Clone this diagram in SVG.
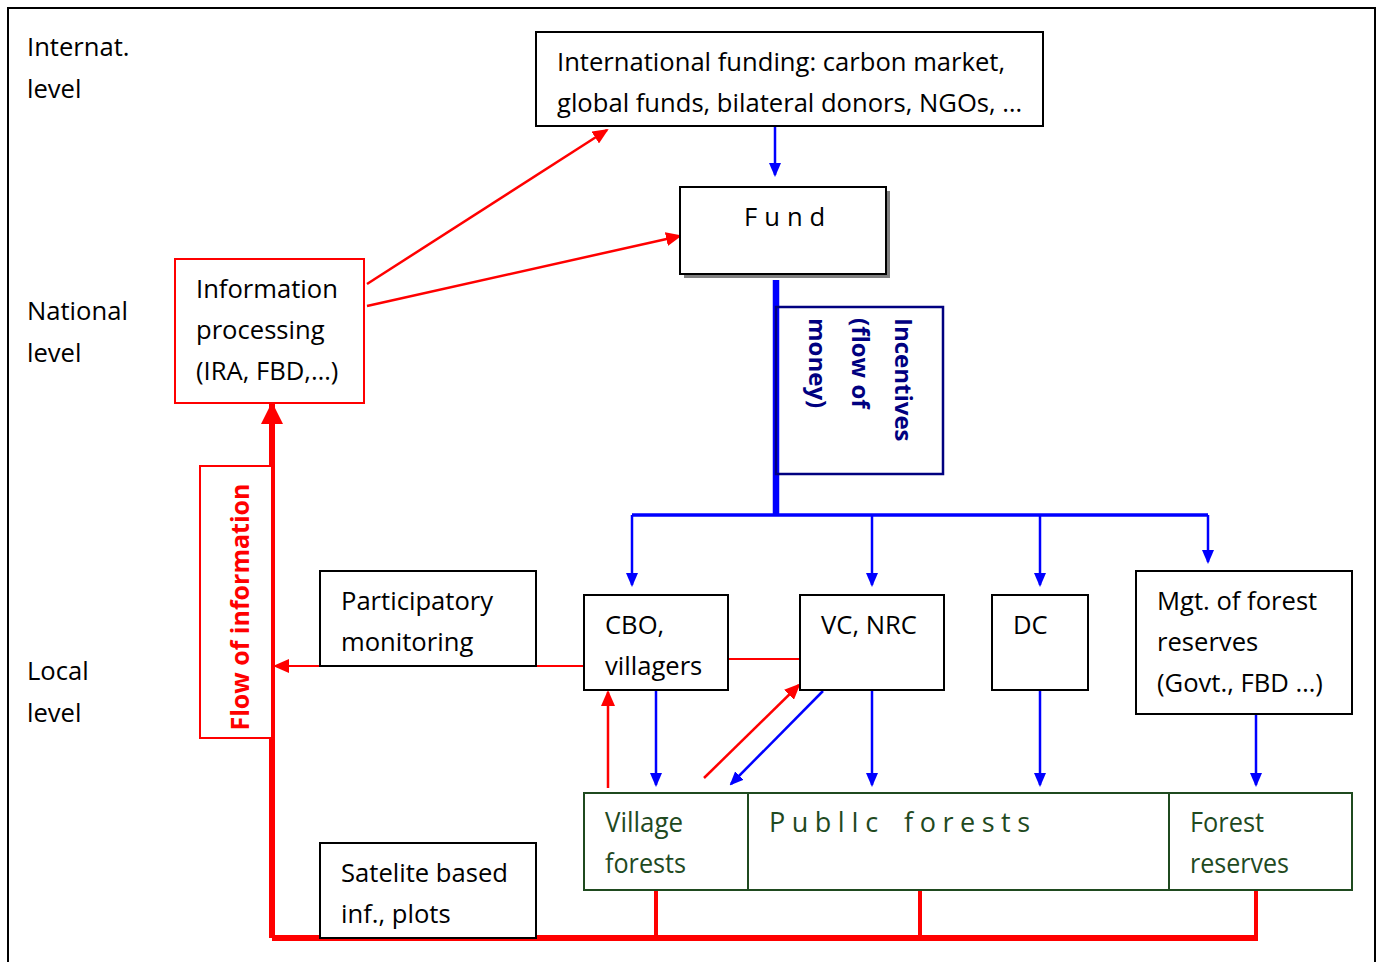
<svg xmlns="http://www.w3.org/2000/svg" width="1381" height="962" viewBox="0 0 1381 962">
<style>
.t{font-family:"Open Sans","Noto Sans",sans-serif;font-size:25.6px;fill:#000}
.box{fill:#fff;stroke:#000;stroke-width:2}
.rbox{fill:#fff;stroke:#f00;stroke-width:2}
.b{stroke:#00f;fill:none}
.r{stroke:#f00;fill:none}
.g{font-family:"Open Sans","Noto Sans",sans-serif;font-size:27px;fill:#1f4a1f}
</style>
<defs>
<marker id="ab" markerWidth="14" markerHeight="14" refX="12" refY="6" orient="auto" markerUnits="userSpaceOnUse" viewBox="0 0 14 12"><path d="M0,0 L14,6 L0,12 z" fill="#00f"/></marker>
<marker id="ar" markerWidth="16" markerHeight="14" refX="14" refY="7" orient="auto" markerUnits="userSpaceOnUse" viewBox="0 0 16 14"><path d="M0,0 L16,7 L0,14 z" fill="#f00"/></marker>
<marker id="arb" markerWidth="22" markerHeight="22" refX="20" refY="11" orient="auto" markerUnits="userSpaceOnUse" viewBox="0 0 22 22"><path d="M0,0 L22,11 L0,22 z" fill="#f00"/></marker>
</defs>
<rect x="0" y="0" width="1381" height="962" fill="#fff"/>
<rect x="8" y="8" width="1367" height="1000" fill="none" stroke="#000" stroke-width="2"/>

<g id="levels">
<text class="t" x="27" y="56">Internat.</text>
<text class="t" x="27" y="98">level</text>
<text class="t" x="27" y="320">National</text>
<text class="t" x="27" y="362">level</text>
<text class="t" x="27" y="680">Local</text>
<text class="t" x="27" y="722">level</text>
</g>

<g id="connectors">
<line class="b" x1="775" y1="127" x2="775" y2="175" stroke-width="2.5" marker-end="url(#ab)"/>
<line class="b" x1="776" y1="280" x2="776" y2="515" stroke-width="6.5"/>
<line class="b" x1="632" y1="515" x2="1208" y2="515" stroke-width="3.5"/>
<line class="b" x1="632" y1="515" x2="632" y2="585" stroke-width="2.5" marker-end="url(#ab)"/>
<line class="b" x1="872" y1="515" x2="872" y2="585" stroke-width="2.5" marker-end="url(#ab)"/>
<line class="b" x1="1040" y1="515" x2="1040" y2="585" stroke-width="2.5" marker-end="url(#ab)"/>
<line class="b" x1="1208" y1="515" x2="1208" y2="562" stroke-width="2.5" marker-end="url(#ab)"/>
<line class="b" x1="656" y1="691" x2="656" y2="785" stroke-width="2.5" marker-end="url(#ab)"/>
<line class="b" x1="872" y1="691" x2="872" y2="785" stroke-width="2.5" marker-end="url(#ab)"/>
<line class="b" x1="1040" y1="691" x2="1040" y2="785" stroke-width="2.5" marker-end="url(#ab)"/>
<line class="b" x1="1256" y1="715" x2="1256" y2="785" stroke-width="2.5" marker-end="url(#ab)"/>
<line class="b" x1="823" y1="691" x2="731" y2="784" stroke-width="2.5" marker-end="url(#ab)"/>
<line class="r" x1="367" y1="284" x2="607" y2="130" stroke-width="2.5" marker-end="url(#ar)"/>
<line class="r" x1="367" y1="306" x2="680" y2="236" stroke-width="2.5" marker-end="url(#ar)"/>
<line class="r" x1="272" y1="938" x2="272" y2="404" stroke-width="6" marker-end="url(#arb)"/>
<polyline class="r" points="272,938 1256,938" stroke-width="6"/>
<line class="r" x1="656" y1="890" x2="656" y2="938" stroke-width="4"/>
<line class="r" x1="920" y1="890" x2="920" y2="938" stroke-width="4"/>
<line class="r" x1="1256" y1="890" x2="1256" y2="941" stroke-width="4"/>
<line class="r" x1="584" y1="666" x2="275" y2="666" stroke-width="2" marker-end="url(#ar)"/>
<line class="r" x1="728" y1="659" x2="800" y2="659" stroke-width="2"/>
<line class="r" x1="608" y1="788" x2="608" y2="692" stroke-width="2.5" marker-end="url(#ar)"/>
<line class="r" x1="704" y1="778" x2="799" y2="685" stroke-width="2.5" marker-end="url(#ar)"/>
</g>

<g id="intl-funding">
<rect class="box" x="536" y="32" width="507" height="94"/>
<text class="t" x="557" y="71">International funding: carbon market,</text>
<text class="t" x="557" y="112">global funds, bilateral donors, NGOs, …</text>
</g>

<g id="fund">
<rect x="684" y="191" width="206" height="87" fill="#808080"/>
<rect class="box" x="680" y="187" width="206" height="87"/>
<text class="t" x="744" y="226" letter-spacing="7">Fund</text>
</g>

<g id="incentives">
<rect x="776" y="307" width="167" height="167" fill="none" stroke="#000080" stroke-width="2.5"/>
<g font-family="Open Sans, Noto Sans, sans-serif" font-weight="bold" font-size="24" fill="#000080">
<text transform="translate(895,318) rotate(90)">Incentives</text>
<text transform="translate(852,318) rotate(90)">(flow of</text>
<text transform="translate(809,318) rotate(90)">money)</text>
</g>
</g>

<g id="info-processing">
<rect class="rbox" x="175" y="259" width="189" height="144"/>
<text class="t" x="196" y="298">Information</text>
<text class="t" x="196" y="339">processing</text>
<text class="t" x="196" y="380">(IRA, FBD,…)</text>
</g>

<g id="flow-info">
<rect class="rbox" x="200" y="466" width="72" height="272"/>
<text transform="translate(249,607) rotate(-90)" text-anchor="middle" font-family="Open Sans, Noto Sans, sans-serif" font-weight="bold" font-size="25" fill="#f00">Flow of information</text>
</g>

<g id="participatory">
<rect class="box" x="320" y="571" width="216" height="95"/>
<text class="t" x="341" y="610">Participatory</text>
<text class="t" x="341" y="651">monitoring</text>
</g>

<g id="satelite">
<rect class="box" x="320" y="843" width="216" height="95"/>
<text class="t" x="341" y="882">Satelite based</text>
<text class="t" x="341" y="923">inf., plots</text>
</g>

<g id="cbo">
<rect class="box" x="584" y="595" width="144" height="95"/>
<text class="t" x="605" y="634">CBO,</text>
<text class="t" x="605" y="675">villagers</text>
</g>

<g id="vc-nrc">
<rect class="box" x="800" y="595" width="144" height="95"/>
<text class="t" x="821" y="634">VC, NRC</text>
</g>

<g id="dc">
<rect class="box" x="992" y="595" width="96" height="95"/>
<text class="t" x="1013" y="634">DC</text>
</g>

<g id="mgt">
<rect class="box" x="1136" y="571" width="216" height="143"/>
<text class="t" x="1157" y="610">Mgt. of forest</text>
<text class="t" x="1157" y="651">reserves</text>
<text class="t" x="1157" y="692">(Govt., FBD …)</text>
</g>

<g id="forests">
<rect x="584" y="793" width="768" height="97" fill="#fff" stroke="#1f4a1f" stroke-width="2"/>
<line x1="748" y1="793" x2="748" y2="890" stroke="#1f4a1f" stroke-width="2"/>
<line x1="1169" y1="793" x2="1169" y2="890" stroke="#1f4a1f" stroke-width="2"/>
<text class="g" x="605" y="832" textLength="78" lengthAdjust="spacingAndGlyphs">Village</text>
<text class="g" x="605" y="873" textLength="81" lengthAdjust="spacingAndGlyphs">forests</text>
<text class="g" x="769" y="832" letter-spacing="6.5" word-spacing="6">PublIc forests</text>
<text class="g" x="1190" y="832" textLength="74" lengthAdjust="spacingAndGlyphs">Forest</text>
<text class="g" x="1190" y="873" textLength="99" lengthAdjust="spacingAndGlyphs">reserves</text>
</g>
</svg>
